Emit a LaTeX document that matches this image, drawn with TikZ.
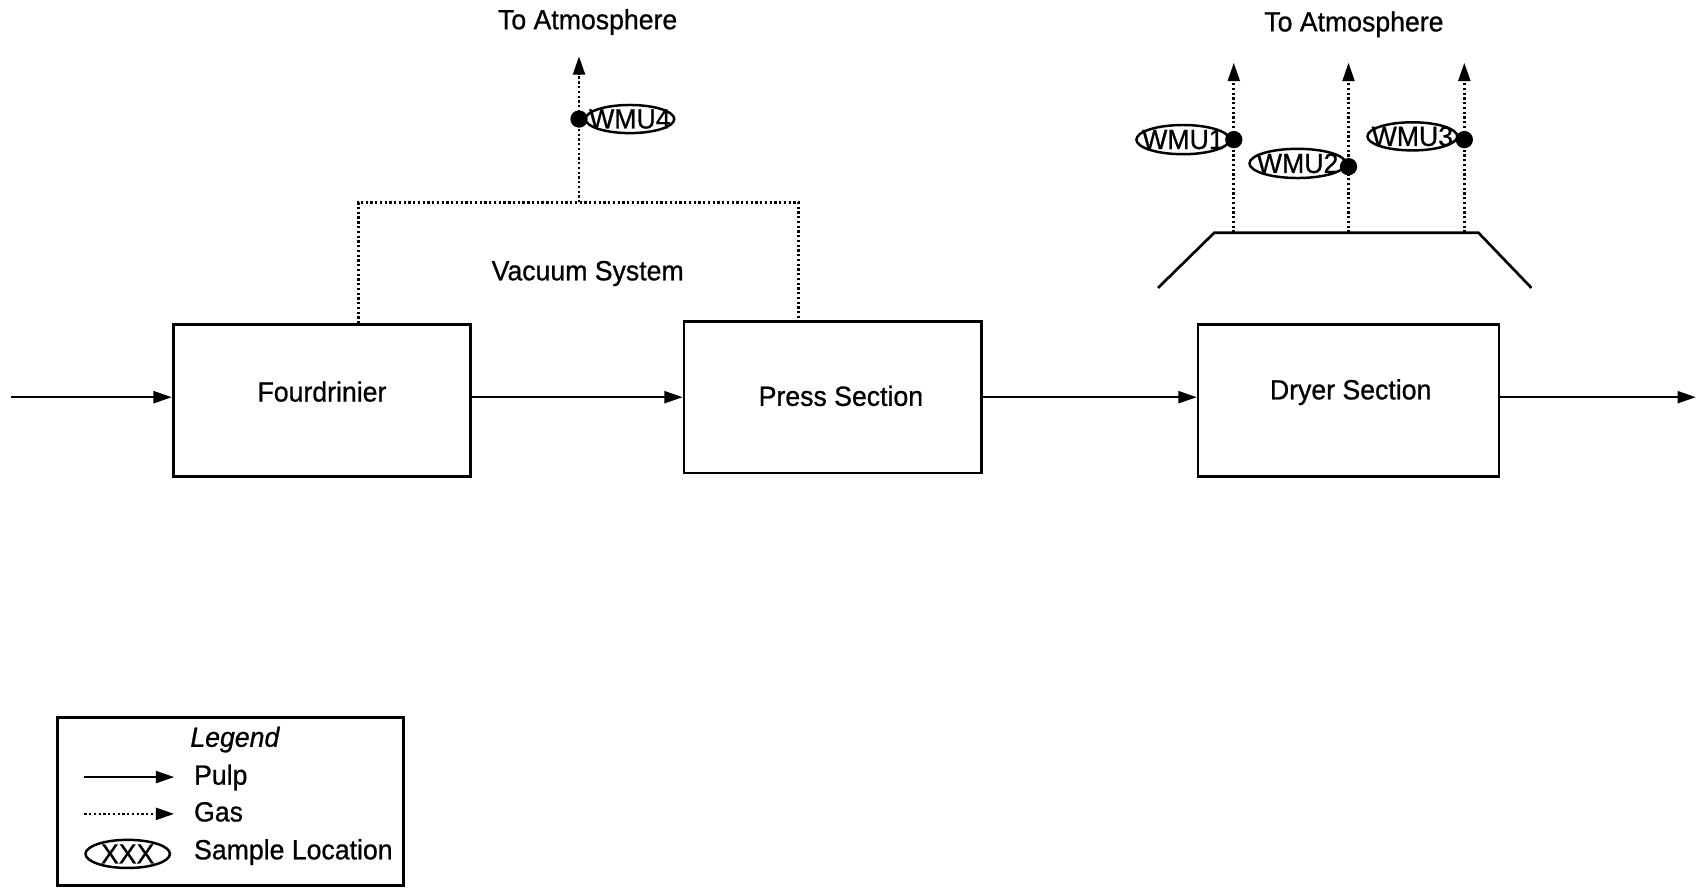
\documentclass[tikz,border=0pt]{standalone}
\usepackage{fontspec}
\setmainfont[FakeBold=0.8,FakeStretch=0.96]{Liberation Sans}
\usetikzlibrary{arrows.meta,shapes.geometric}
\begin{document}
\begin{tikzpicture}[x=0.02cm,y=-0.02cm,
  every node/.style={font=\fontsize{14.6}{17}\selectfont},
  block/.style={draw, line width=1.4pt, minimum width=5.5cm, minimum height=2.8cm, inner sep=0},
  pulp/.style={line width=1.3pt, -{Triangle[length=0.34cm,width=0.22cm]}},
  gasline/.style={line width=1.4pt, dash pattern=on 1.2pt off 1.3pt},
  gas/.style={gasline, -{Triangle[length=0.34cm,width=0.22cm]}},
  sample/.style={draw, ellipse, line width=1.3pt, minimum width=1.7cm, minimum height=0.54cm, inner sep=0},
  dot/.style={circle, fill, inner sep=0, minimum size=0.32cm},
  lbl/.style={anchor=base, inner sep=0}]
\useasboundingbox (0,0) rectangle (1568,820);

% process blocks
\node[block] (four) at (297.5,370) {};
\node[block] (press) at (769.5,367) {};
\node[block, minimum width=5.56cm] (dryer) at (1246,370) {};
\node[lbl] (fourT) at (297.5,371) {Fourdrinier};
\node[lbl] (pressT) at (777,375) {Press Section};
\node[lbl] (dryerT) at (1248,369) {Dryer Section};

% pulp line
\coordinate (in) at (10,367);
\coordinate (out) at (1567,367);
\draw[pulp] (in) -- (in -| four.west);
\draw[pulp] (four.east |- in) -- (press.west |- in);
\draw[pulp] (press.east |- in) -- (dryer.west |- in);
\draw[pulp] (dryer.east |- in) -- (out);

% vacuum system
\coordinate (vl) at (331,187);
\coordinate (vr) at (738,187);
\coordinate (vm) at (535,187);
\coordinate (atm4) at (535,52);
\draw[gasline] (vl |- four.north) -- (vl) -- (vr) -- (vr |- press.north);
\draw[gas] (vm) -- (atm4);
\node[lbl] (vac) at (543,259) {Vacuum System};
\node[lbl] (atmT1) at (543,27) {To Atmosphere};
\node[sample, minimum width=1.64cm, minimum height=0.52cm] (w4) at (582,110) {\makebox[0pt]{WMU4}};
\node[dot] (d4) at (535,110) {};

% dryer hood
\coordinate (h1) at (1070,266);
\coordinate (h2) at (1122,215);
\coordinate (h3) at (1366,215);
\coordinate (h4) at (1415,266);
\draw[line width=1.4pt] (h1) -- (h2) -- (h3) -- (h4);
\coordinate (g1b) at (1140,215); \coordinate (g1t) at (1140,58);
\coordinate (g2b) at (1246,215); \coordinate (g2t) at (1246,58);
\coordinate (g3b) at (1353,215); \coordinate (g3t) at (1353,58);
\draw[gas] (g1b) -- (g1t);
\draw[gas] (g2b) -- (g2t);
\draw[gas] (g3b) -- (g3t);
\node[lbl] (atmT2) at (1251,29) {To Atmosphere};
\node[sample, minimum width=1.72cm] (w1) at (1093,129) {\makebox[0pt]{WMU1}};
\node[sample, minimum width=1.78cm] (w2) at (1199,151) {\makebox[0pt]{WMU2}};
\node[sample, minimum width=1.66cm, minimum height=0.52cm] (w3) at (1305,126) {\makebox[0pt]{WMU3}};
\node[dot] (d1) at (1140,129) {};
\node[dot] (d2) at (1246,154) {};
\node[dot] (d3) at (1353,129) {};

% legend
\node[draw, line width=1.3pt, minimum width=6.4cm, minimum height=3.1cm, inner sep=0] (legend) at (213,740.5) {};
\node[lbl] (legT) at (217,690) {\itshape Legend};
\coordinate (lp1) at (78,718); \coordinate (lp2) at (161,718);
\coordinate (lg1) at (78,752); \coordinate (lg2) at (161,752);
\draw[pulp] (lp1) -- (lp2);
\draw[gas] (lg1) -- (lg2);
\node[lbl, anchor=base west] (pulpT) at (179,725) {Pulp};
\node[lbl, anchor=base west] (gasT) at (179,759) {Gas};
\node[sample, minimum width=1.56cm, minimum height=0.52cm] (xxx) at (118,789) {\makebox[0pt]{XXX}};
\node[lbl, anchor=base west] (sampT) at (179,794) {Sample Location};
\end{tikzpicture}
\end{document}
